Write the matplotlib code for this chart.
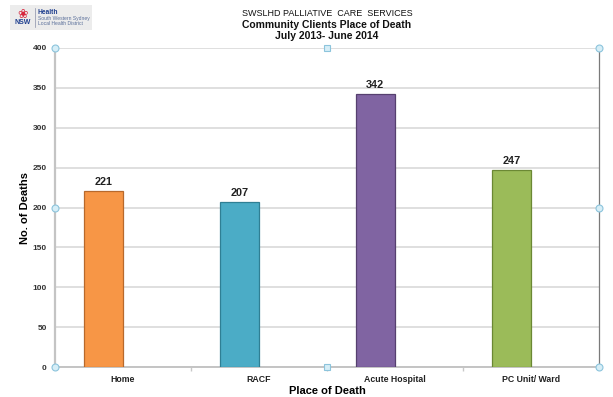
import matplotlib
matplotlib.use("Agg")
import matplotlib.pyplot as plt
from matplotlib.patches import Rectangle

plt.rcParams['font.family'] = ['Liberation Sans', 'DejaVu Sans']

# data
places = ["Home", "RACF", "Acute Hospital", "PC Unit/ Ward"]
deaths = [221, 207, 342, 247]
fills = ["#F79646", "#4BACC6", "#8064A2", "#9BBB59"]
edges = ["#B8692C", "#2F7F94", "#56406F", "#6B8834"]

W, H = 613, 397
fig = plt.figure(figsize=(W / 100, H / 100), dpi=100)
ax = fig.add_axes([55 / W, 1 - 367 / H, (599 - 55) / W, (367 - 48) / H])

x = list(range(len(places)))
ax.bar(x, deaths, width=-0.29, align="edge", color=fills, edgecolor=edges,
       linewidth=0.9, zorder=3)
for xi, v in zip(x, deaths):
    ax.text(xi - 0.145, v + 5, str(v), ha="center", va="bottom",
            fontsize=7.8, fontweight="bold", color="#222222")

ax.set_xlim(-0.5, 3.5)
ax.set_ylim(0, 400)
ax.set_yticks(range(0, 401, 50))
ax.yaxis.grid(True, color="#d9d9d9", linewidth=1.2, zorder=0)
ax.set_axisbelow(True)
ax.tick_params(axis="y", length=0, labelsize=6, pad=6, colors="#333333")
for t in ax.get_yticklabels():
    t.set_fontweight("bold")

ax.set_xticks(x)
ax.set_xticklabels(places, fontsize=6.3, fontweight="bold", color="#222222")
ax.set_xticks([0.5, 1.5, 2.5], minor=True)
ax.tick_params(axis="x", which="major", length=0, pad=6)
ax.tick_params(axis="x", which="minor", length=3, color="#c8c8c8", width=1)

ax.spines["top"].set_visible(False)
ax.spines["left"].set_color("#c4c4c4")
ax.spines["left"].set_linewidth(1.6)
ax.spines["bottom"].set_color("#c4c4c4")
ax.spines["bottom"].set_linewidth(1.4)
ax.spines["right"].set_color("#7a7a7a")
ax.spines["right"].set_linewidth(0.9)

ax.set_ylabel("No. of Deaths", fontsize=8, fontweight="bold", labelpad=2)
ax.set_xlabel("Place of Death", fontsize=8, fontweight="bold", labelpad=1)

# selection handles on the plot frame
for hx, hy in [(0, 0), (0, 1), (1, 0), (1, 1), (0, 0.5), (1, 0.5)]:
    ax.plot(hx, hy, "o", ms=5, mfc="#d6eef7", mec="#8cc4dc", mew=0.8,
            transform=ax.transAxes, clip_on=False, zorder=10)
for hx, hy in [(0.5, 0), (0.5, 1)]:
    ax.plot(hx, hy, "s", ms=4.5, mfc="#d6eef7", mec="#8cc4dc", mew=0.8,
            transform=ax.transAxes, clip_on=False, zorder=10)

# titles
fig.text(327 / W, 1 - 14 / H, "SWSLHD PALLIATIVE  CARE  SERVICES", ha="center",
         va="center", fontsize=6.5, color="#111111")
fig.text(327 / W, 1 - 25 / H, "Community Clients Place of Death", ha="center",
         va="center", fontsize=7.5, fontweight="bold", color="#111111")
fig.text(327 / W, 1 - 36 / H, "July 2013- June 2014", ha="center",
         va="center", fontsize=7.5, fontweight="bold", color="#111111")

# NSW Health logo block
fig.patches.append(Rectangle((10 / W, 1 - 30 / H), 82 / W, 25 / H,
                             transform=fig.transFigure, facecolor="#ececec",
                             edgecolor="none"))
fig.text(23 / W, 1 - 14 / H, "\u2740", ha="center", va="center", fontsize=9,
         color="#d7263d", family=["DejaVu Sans"])
fig.text(23 / W, 1 - 23 / H, "NSW", ha="center", va="center", fontsize=5,
         fontweight="bold", color="#1f3f8f")
fig.lines.append(plt.Line2D([35 / W, 35 / W], [1 - 27 / H, 1 - 8 / H],
                            transform=fig.transFigure, color="#8a8fa8", lw=0.5))
fig.text(38 / W, 1 - 12 / H, "Health", ha="left", va="center", fontsize=4.8,
         fontweight="bold", color="#1f3f8f")
fig.text(38 / W, 1 - 18.5 / H, "South Western Sydney", ha="left", va="center",
         fontsize=3.6, color="#5a6f9a")
fig.text(38 / W, 1 - 23.5 / H, "Local Health District", ha="left", va="center",
         fontsize=3.6, color="#5a6f9a")

fig.savefig("out.png", dpi=100, facecolor="white")
